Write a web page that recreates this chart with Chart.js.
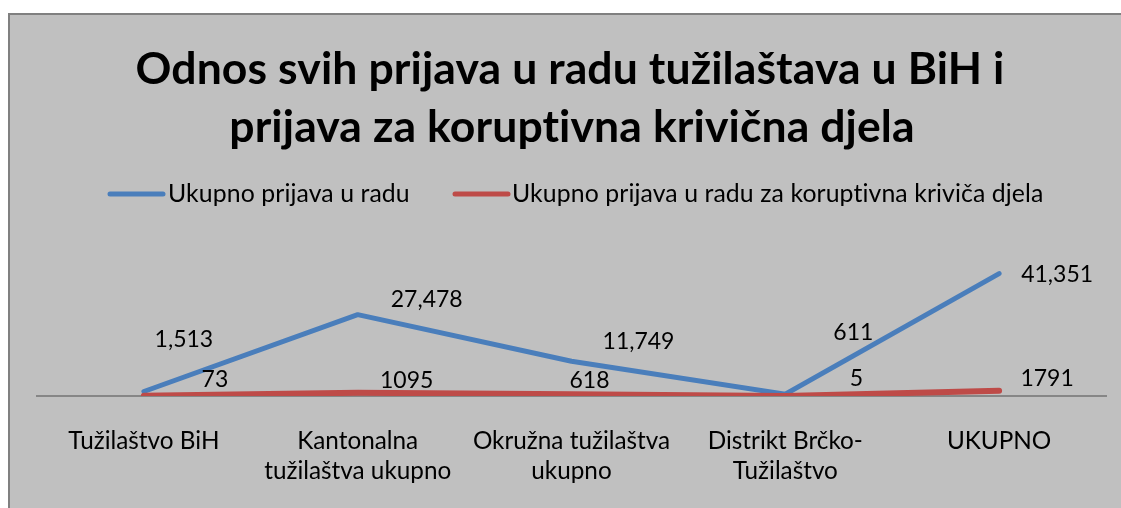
<!DOCTYPE html>
<html>
<head>
<meta charset="utf-8">
<script src="https://cdn.jsdelivr.net/npm/chart.js@4"></script>
<style>
  body { margin: 0; background: #ffffff; }
  #wrap { width: 1121px; height: 508px; }
</style>
</head>
<body>
<div id="wrap"><canvas id="mycanvas"></canvas></div>
<script>
var categories = [
    "Tužilaštvo BiH",
    ["Kantonalna", "tužilaštva ukupno"],
    ["Okružna tužilaštva", "ukupno"],
    ["Distrikt Brčko-", "Tužilaštvo"],
    "UKUPNO"
];
var seriesNames = ["Ukupno prijava u radu", "Ukupno prijava u radu za koruptivna kriviča djela"];
var totalReports = [1513, 27478, 11749, 611, 41351];
var corruptionReports = [73, 1095, 618, 5, 1791];
var titleLines = ["Odnos svih prijava u radu tužilaštava u BiH i", "prijava za koruptivna krivična djela"];

var FONT = "Lato, 'Open Sans', sans-serif";

// where each data label sits relative to its point (px)
var labelOffsets = [
    [[40, -52], [69, -15], [67, -20], [68, -62], [58, 1]],
    [[71, -16], [49, -12], [18, -14], [71, -17], [48, -12]]
];

var frame = {
    id: 'frame',
    beforeDraw: function (chart) {
        var c = chart.ctx;
        c.save();
        c.fillStyle = '#ffffff';
        c.fillRect(0, 0, chart.width, chart.height);
        c.fillStyle = '#c0c0c0';
        c.fillRect(8, 13, chart.width, chart.height);
        c.strokeStyle = '#808080';
        c.lineWidth = 2;
        c.beginPath();
        c.moveTo(9, chart.height);
        c.lineTo(9, 14);
        c.lineTo(chart.width, 14);
        c.stroke();

        // no "ti" ligatures
        c.letterSpacing = '0.1px';

        // title
        c.fillStyle = '#000000';
        c.textAlign = 'center';
        c.textBaseline = 'middle';
        c.font = "bold 44.5px " + FONT;
        c.fillText(titleLines[0], 570, 70);
        c.fillText(titleLines[1], 572, 128);

        // legend
        var items = [[108, 168], [453, 512]];
        c.font = "24.8px " + FONT;
        c.textAlign = 'left';
        chart.data.datasets.forEach(function (ds, i) {
            c.strokeStyle = ds.borderColor;
            c.lineWidth = 5;
            c.lineCap = 'round';
            c.beginPath();
            c.moveTo(items[i][0] + 2, 194);
            c.lineTo(items[i][0] + 55, 194);
            c.stroke();
            c.fillStyle = '#000000';
            c.fillText(ds.label, items[i][1], 194);
        });
        c.restore();
    }
};

var valueLabels = {
    id: 'valueLabels',
    afterDatasetsDraw: function (chart) {
        var c = chart.ctx;
        c.save();
        c.font = "23px " + FONT;
        c.fillStyle = '#000000';
        c.textAlign = 'center';
        c.textBaseline = 'middle';
        chart.data.datasets.forEach(function (ds, i) {
            var meta = chart.getDatasetMeta(i);
            meta.data.forEach(function (pt, j) {
                var v = ds.data[j];
                var txt = i === 0 ? v.toLocaleString('en-US') : String(v);
                c.fillText(txt, pt.x + labelOffsets[i][j][0], pt.y + labelOffsets[i][j][1]);
            });
        });
        c.restore();
    }
};

var chartdata = {
    labels: categories,
    datasets: [
        {
            label: seriesNames[0],
            data: totalReports,
            borderColor: '#4a7ebb',
            borderWidth: 5,
            borderCapStyle: 'round',
            borderJoinStyle: 'round',
            pointRadius: 0,
            tension: 0,
            order: 1
        },
        {
            label: seriesNames[1],
            data: corruptionReports,
            borderColor: '#be4b48',
            borderWidth: 6,
            borderCapStyle: 'round',
            borderJoinStyle: 'round',
            pointRadius: 0,
            tension: 0,
            order: 0
        }
    ]
};

var ctx = document.getElementById('mycanvas');

var lineGraph = new Chart(ctx, {
    type: 'line',
    data: chartdata,
    plugins: [frame, valueLabels],
    options: {
        responsive: true,
        maintainAspectRatio: false,
        animation: false,
        layout: { padding: { left: 37, right: 15, top: 248, bottom: 0 } },
        plugins: {
            legend: { display: false },
            title: { display: false },
            tooltip: { enabled: false }
        },
        scales: {
            x: {
                offset: true,
                grid: { display: false, drawTicks: false },
                border: { display: true, color: '#868686', width: 2 },
                ticks: {
                    color: '#000000',
                    font: { family: FONT, size: 24.3, lineHeight: 1.25 },
                    padding: 30,
                    maxRotation: 0,
                    autoSkip: false
                },
                afterFit: function (scale) { scale.height = 112; }
            },
            y: {
                display: false,
                min: 0,
                max: 50000
            }
        }
    }
});
</script>
</body>
</html>
